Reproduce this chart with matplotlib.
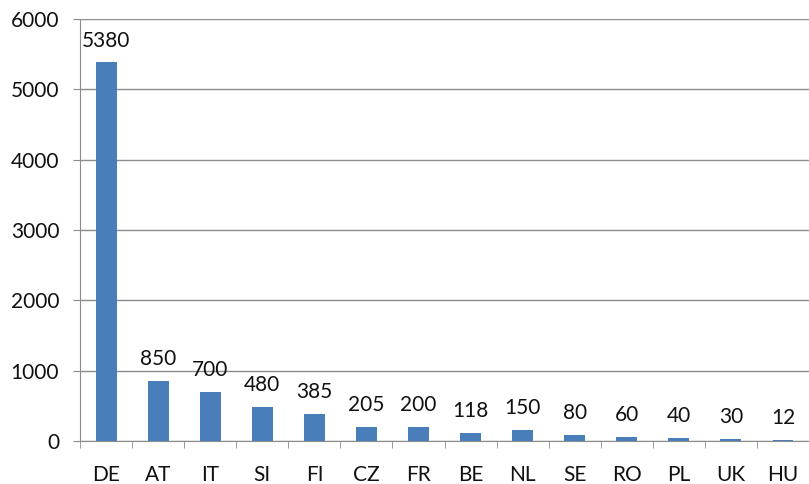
import matplotlib.pyplot as plt
import numpy as np

# -----------------------------
# Data
# -----------------------------
countries = ["DE", "AT", "IT", "SI", "FI", "CZ", "FR", "BE", "NL", "SE", "RO", "PL", "UK", "HU"]
values = [5380, 850, 700, 480, 385, 205, 200, 118, 150, 80, 60, 40, 30, 12]

barColor = "#4a7ebb"
gridColor = "#8c8c8c"

plt.rcParams["font.family"] = ["Lato", "DejaVu Sans"]

fig = plt.figure(figsize=(8.09, 4.84), dpi=100)
ax = fig.add_axes([0.099, 0.089, 0.901, 0.872])

positions = np.arange(len(countries))
bars = ax.bar(positions, values, width=0.4, color=barColor, zorder=3)

for xValue, value in zip(positions, values):
    ax.text(xValue, value + 170, str(value), ha="center", va="bottom", fontsize=15, color="#111111")

ax.set_xlim(-0.5, len(countries) - 0.5)
ax.set_ylim(0, 6000)
ax.set_yticks(np.arange(0, 6001, 1000))
ax.yaxis.grid(True, color=gridColor, lw=1.0, zorder=0)

ax.set_xticks(positions)
ax.set_xticklabels(countries, fontsize=15, color="#111111")
ax.set_xticks(np.arange(-0.5, len(countries), 1.0), minor=True)
ax.tick_params(axis="x", which="major", length=0, pad=17)
ax.tick_params(axis="x", which="minor", length=5, color=gridColor, direction="out")
ax.tick_params(axis="y", length=5, color=gridColor, labelsize=15, labelcolor="#111111", pad=10)

for side in ["top", "right"]:
    ax.spines[side].set_visible(False)
for side in ["left", "bottom"]:
    ax.spines[side].set_color(gridColor)

fig.savefig("out.png", dpi=100)
